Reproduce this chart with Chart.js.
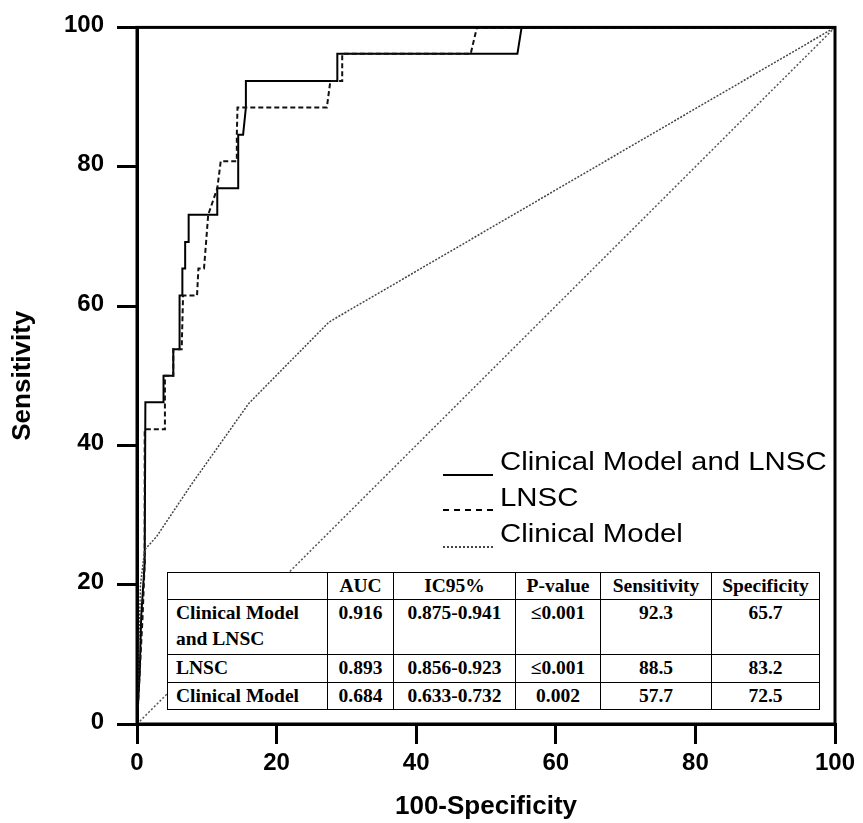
<!DOCTYPE html>
<html lang="en">
<head>
    <meta charset="UTF-8">
    <title>ROC curves</title>
    <style>
        body { margin: 0; background: #fff; }
        #wrap { position: relative; width: 863px; height: 823px; }
        #legend div { position: absolute; font-family: "Liberation Sans", Arial, sans-serif; font-size: 26px; line-height: 30px; color: #000; white-space: nowrap; }
        #legend .txt { transform: scaleX(1.13); transform-origin: 0 50%; }
        #legend .sample { width: 50px; height: 0; }
        #stats {
            position: absolute; left: 167px; top: 572px; width: 652px;
            border-collapse: collapse; table-layout: fixed; background: #fff;
            font-family: "Liberation Serif", "Times New Roman", serif; font-weight: bold; font-size: 19.5px; color: #000;
        }
        #stats td { border: 1.5px solid #000; padding: 0 4px; text-align: center; vertical-align: top; line-height: 26px; }
        #stats td.name { text-align: left; padding-left: 8px; }
    </style>
</head>
<body>
<div id="wrap">
    <canvas id="chart" width="863" height="823"></canvas>

    <!-- leyenda -->
    <div id="legend"></div>

    <!-- tabla de resultados -->
    <table id="stats"></table>
</div>

<script src="https://cdn.jsdelivr.net/npm/chart.js"></script>
<script>
    // curva Clinical Model and LNSC (linea continua)
    const combinedFpr  = [0, 0.4, 0.6, 1.1, 1.2, 3.8, 3.8, 5.2, 5.2, 6.1, 6.1, 6.5, 6.5, 6.9, 6.9, 7.4, 7.4, 11.5, 11.5, 14.5, 14.5, 15.2, 15.6, 15.6, 28.7, 28.7, 54.5, 55.1, 100];
    const combinedSens = [0, 7.7, 15.4, 23.1, 46.2, 46.2, 50, 50, 53.8, 53.8, 61.5, 61.5, 65.4, 65.4, 69.2, 69.2, 73.1, 73.1, 76.9, 76.9, 84.6, 84.6, 88.5, 92.3, 92.3, 96.2, 96.2, 100, 100];

    // curva LNSC (discontinua)
    const lnscFpr  = [0, 0.4, 0.8, 1.1, 1.1, 4.0, 4.0, 5.2, 5.2, 6.4, 6.6, 8.6, 8.8, 9.6, 9.9, 10.2, 11.5, 12.0, 14.3, 14.3, 14.4, 27.2, 27.7, 29.4, 29.4, 47.8, 48.7, 100];
    const lnscSens = [0, 7.7, 15.4, 23.1, 42.3, 42.3, 50, 50, 53.8, 53.8, 61.5, 61.5, 65.4, 65.4, 69.2, 73.1, 76.9, 80.8, 80.8, 84.6, 88.5, 88.5, 92.3, 92.3, 96.2, 96.2, 100, 100];

    // curva Clinical Model (punteada)
    const clinicalFpr  = [0, 0.5, 1.1, 2.8, 7.8, 16, 27.5, 100];
    const clinicalSens = [0, 20, 25, 26.9, 34.4, 46, 57.7, 100];

    // diagonal de referencia
    const refFpr  = [0, 100];
    const refSens = [0, 100];

    const xTicks = [0, 20, 40, 60, 80, 100];
    const yTicks = [0, 20, 40, 60, 80, 100];

    const legendNames = ['Clinical Model and LNSC', 'LNSC', 'Clinical Model'];

    const tableHeader = ['', 'AUC', 'IC95%', 'P-value', 'Sensitivity', 'Specificity'];
    const tableRows = [
        ['Clinical Model<br>and LNSC', '0.916', '0.875-0.941', '&le;0.001', '92.3', '65.7'],
        ['LNSC', '0.893', '0.856-0.923', '&le;0.001', '88.5', '83.2'],
        ['Clinical Model', '0.684', '0.633-0.732', '0.002', '57.7', '72.5']
    ];
    const colWidths = [160, 66, 122, 85, 111, 108];
    const rowHeights = [27, 55, 28, 27];

    function points(xs, ys) {
        return xs.map((x, i) => ({ x: x, y: ys[i] }));
    }

    // marco negro alrededor del area del grafico
    const frame = {
        id: 'frame',
        afterDatasetsDraw(chart) {
            const a = chart.chartArea;
            const ctx = chart.ctx;
            ctx.save();
            ctx.strokeStyle = '#000';
            ctx.lineWidth = 3;
            ctx.strokeRect(a.left, a.top, a.right - a.left, a.bottom - a.top);
            ctx.restore();
        }
    };

    const tickFont = { family: 'Liberation Sans', weight: 'bold', size: 24 };
    const titleFont = { family: 'Liberation Sans', weight: 'bold', size: 26 };

    function axis(ticks, title) {
        return {
            type: 'linear',
            min: 0,
            max: 100,
            afterBuildTicks: s => { s.ticks = ticks.map(v => ({ value: v })); },
            ticks: { font: tickFont, color: '#000', maxRotation: 0 },
            grid: { drawOnChartArea: false, drawTicks: true, tickLength: 20, lineWidth: 3, color: '#000' },
            border: { display: true, width: 3, color: '#000' },
            title: { display: true, text: title, font: titleFont, color: '#000' }
        };
    }

    const xAxis = axis(xTicks, '100-Specificity');
    xAxis.ticks.padding = 5;
    xAxis.title.padding = { top: 0, bottom: 1 };
    xAxis.afterFit = s => { s.height = 99; };

    const yAxis = axis(yTicks, 'Sensitivity');
    yAxis.ticks.padding = 13;
    yAxis.ticks.labelOffset = -2;
    yAxis.title.padding = { top: 7, bottom: 0 };
    yAxis.afterFit = s => { s.width = 137; };

    new Chart(document.getElementById('chart'), {
        type: 'line',
        data: {
            datasets: [
                { label: 'Reference', data: points(refFpr, refSens), borderColor: '#555', borderWidth: 1.5, borderDash: [2, 2] },
                { label: legendNames[2], data: points(clinicalFpr, clinicalSens), borderColor: '#444', borderWidth: 1.5, borderDash: [2, 1.5] },
                { label: legendNames[1], data: points(lnscFpr, lnscSens), borderColor: '#111', borderWidth: 2, borderDash: [5, 3] },
                { label: legendNames[0], data: points(combinedFpr, combinedSens), borderColor: '#000', borderWidth: 2 }
            ]
        },
        options: {
            responsive: false,
            animation: false,
            events: [],
            elements: { point: { radius: 0 }, line: { tension: 0 } },
            layout: { padding: { left: 0, top: 24, right: 28, bottom: 0 } },
            plugins: { legend: { display: false }, tooltip: { enabled: false } },
            scales: { x: xAxis, y: yAxis }
        },
        plugins: [frame]
    });

    // leyenda en HTML
    const legendStyles = ['2.5px solid #000', '2.5px dashed #000', '2px dotted #444'];
    const legendTextTop = [446, 482, 518];
    const legendLineTop = [474, 509, 546];
    const legendBox = document.getElementById('legend');
    legendNames.forEach((name, i) => {
        const line = document.createElement('div');
        line.className = 'sample';
        line.style.left = '443px';
        line.style.top = legendLineTop[i] + 'px';
        line.style.borderTop = legendStyles[i];
        legendBox.appendChild(line);
        const txt = document.createElement('div');
        txt.className = 'txt';
        txt.style.left = '500px';
        txt.style.top = legendTextTop[i] + 'px';
        txt.textContent = name;
        legendBox.appendChild(txt);
    });

    // tabla
    const table = document.getElementById('stats');
    let html = '<colgroup>' + colWidths.map(w => '<col style="width:' + w + 'px">').join('') + '</colgroup>';
    [tableHeader].concat(tableRows).forEach((row, r) => {
        html += '<tr style="height:' + rowHeights[r] + 'px">';
        row.forEach((cell, c) => {
            html += '<td' + (c === 0 ? ' class="name"' : '') + '>' + cell + '</td>';
        });
        html += '</tr>';
    });
    table.innerHTML = html;
</script>
</body>
</html>
